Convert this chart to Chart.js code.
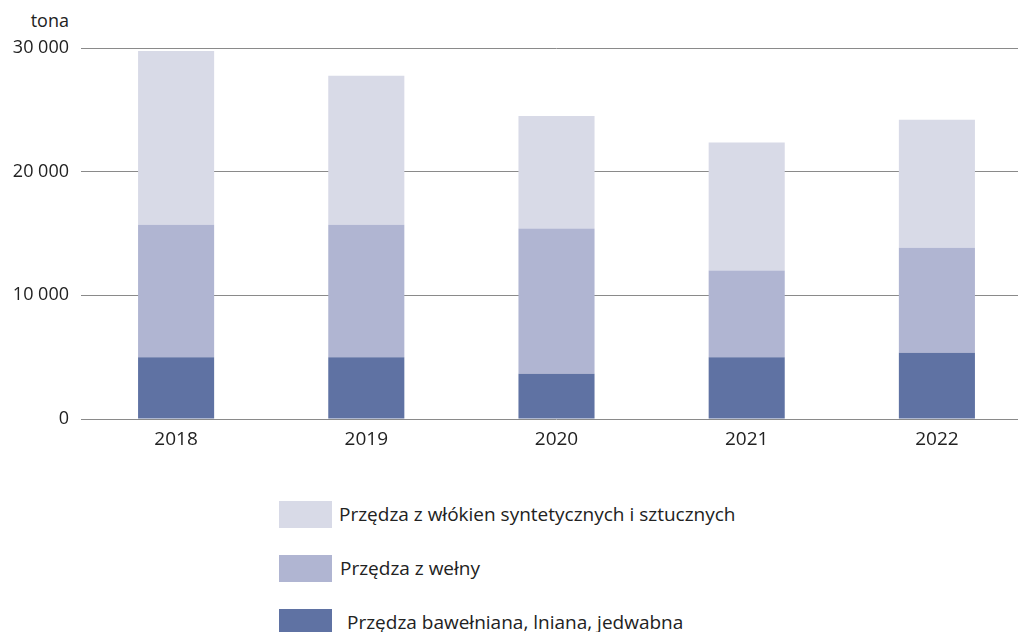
<!DOCTYPE html>
<html>
<head>
<meta charset="utf-8">
<script src="https://cdn.jsdelivr.net/npm/chart.js@4/dist/chart.umd.min.js"></script>
<style>
  html, body { margin: 0; padding: 0; background: #fff; overflow: hidden; width: 1018px; height: 632px; }
  body { position: relative; font-family: "Open Sans", sans-serif; color: #222; }
  #wrap { position: absolute; left: 0; top: 0; width: 1032px; height: 470px; }
  #unit { position: absolute; right: calc(1018px - 69px); top: 8px; font-size: 18px; }
  #legend { position: absolute; left: 279px; top: 501px; }
  .row { position: relative; height: 27px; margin-bottom: 27px; }
  .row .box { position: absolute; left: 0; top: 0; width: 53px; height: 27px; }
  .row .lbl { position: absolute; top: 0px; font-size: 19px; line-height: 26px; white-space: nowrap; }
</style>
</head>
<body>
<div id="unit">tona</div>
<div id="wrap"><canvas id="chart"></canvas></div>
<div id="legend"></div>
<script>
// --- data ---
const years = ['2018', '2019', '2020', '2021', '2022'];
const cotton = [5000, 5000, 3650, 5000, 5350];        // Przędza bawełniana, lniana, jedwabna
const wool = [10700, 10700, 11750, 7000, 8500];       // Przędza z wełny
const synthetic = [14050, 12050, 9100, 10350, 10350]; // Przędza z włókien syntetycznych i sztucznych
const yTicks = [0, 10000, 20000, 30000];

const series = [
    { label: 'Przędza bawełniana, lniana, jedwabna', data: cotton, color: '#5f72a3', textX: 68 },
    { label: 'Przędza z wełny', data: wool, color: '#b0b5d2', textX: 61 },
    { label: 'Przędza z włókien syntetycznych i sztucznych', data: synthetic, color: '#d8dae7', textX: 60 }
];

const fmt = v => String(v).replace(/\B(?=(\d{3})+(?!\d))/g, ' ');

const ctx = document.getElementById('chart').getContext('2d');
new Chart(ctx, {
    type: 'bar',
    data: {
        labels: years,
        datasets: series.map(s => ({
            label: s.label, data: s.data, backgroundColor: s.color,
            borderWidth: 0, categoryPercentage: 1, barPercentage: 0.4
        }))
    },
    options: {
        responsive: true, maintainAspectRatio: false, animation: false,
        layout: { padding: { top: 48, left: 0, right: 0, bottom: 0 } },
        plugins: { legend: { display: false }, tooltip: { enabled: false } },
        scales: {
            x: {
                stacked: true,
                grid: { display: false, drawTicks: false },
                border: { display: false },
                ticks: { color: '#222', font: { family: 'Open Sans', size: 19 }, padding: 9 },
                afterFit: s => { s.height = 51; }
            },
            y: {
                stacked: true, min: 0, max: 30000,
                afterBuildTicks: s => { s.ticks = yTicks.map(v => ({ value: v })); },
                grid: { color: '#8a8a8a', lineWidth: 1, drawTicks: false },
                border: { display: false },
                ticks: { color: '#222', font: { family: 'Open Sans', size: 18 }, padding: 12, callback: v => fmt(v) },
                afterFit: s => { s.width = 81; }
            }
        }
    }
});

// legend in the reference order (top series first)
const legend = document.getElementById('legend');
series.slice().reverse().forEach(s => {
    const row = document.createElement('div');
    row.className = 'row';
    row.innerHTML = `<div class="box" style="background:${s.color}"></div><div class="lbl" style="left:${s.textX}px">${s.label}</div>`;
    legend.appendChild(row);
});
</script>
</body>
</html>
